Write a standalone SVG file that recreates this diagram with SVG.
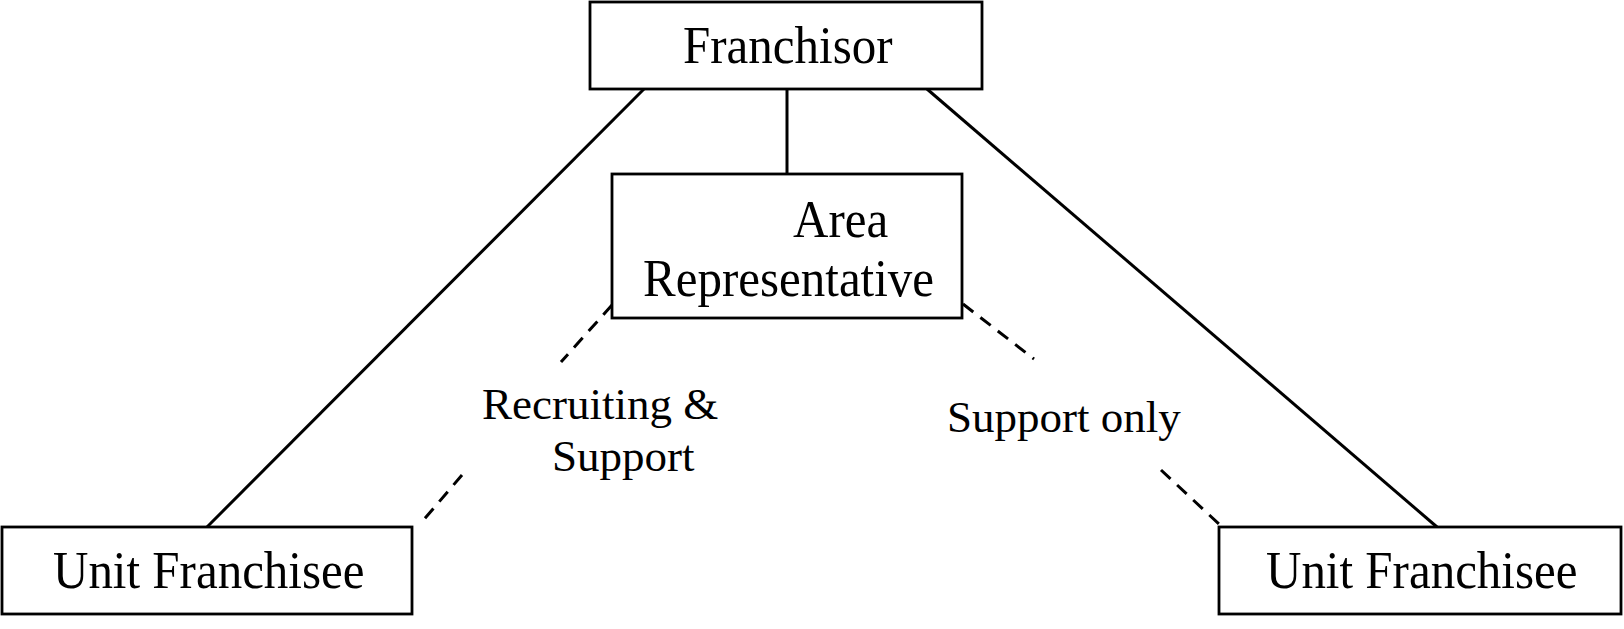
<svg xmlns="http://www.w3.org/2000/svg" width="1624" height="629" viewBox="0 0 1624 629">
<style>
.box{fill:#fff;stroke:#000;stroke-width:2.8}
.t{font-family:"Liberation Serif","Times New Roman",serif;font-size:49px;fill:#000}
.l{font-family:"Liberation Serif","Times New Roman",serif;font-size:45px;fill:#000}
.solid{stroke:#000;stroke-width:3;fill:none}
.dash{stroke:#000;stroke-width:3;fill:none;stroke-dasharray:13 9}
</style>
<rect width="1624" height="629" fill="#fff"/>
<g id="connectors">
<line class="solid" x1="787" y1="89" x2="787" y2="174"/>
<line class="solid" x1="644" y1="89" x2="207" y2="527"/>
<line class="solid" x1="927" y1="89" x2="1437" y2="527"/>
<line class="dash" x1="612" y1="305" x2="561" y2="362"/>
<line class="dash" x1="462" y1="475" x2="421" y2="523"/>
<line class="dash" x1="963" y1="304" x2="1034" y2="359"/>
<line class="dash" x1="1161" y1="470" x2="1219" y2="524"/>
</g>
<g id="franchisor">
<rect class="box" x="590" y="2" width="392" height="87"/>
<text class="t" transform="translate(683 63) scale(1 1.08)">Franchisor</text>
</g>
<g id="area-rep">
<rect class="box" x="612" y="174" width="350" height="144"/>
<text class="t" transform="translate(793 237) scale(1 1.08)">Area</text>
<text class="t" transform="translate(643 296) scale(1 1.08)">Representative</text>
</g>
<g id="unit-left">
<rect class="box" x="2" y="527" width="410" height="87"/>
<text class="t" transform="translate(53 588) scale(1 1.08)">Unit Franchisee</text>
</g>
<g id="unit-right">
<rect class="box" x="1219" y="527" width="402" height="87"/>
<text class="t" transform="translate(1266 588) scale(1 1.08)">Unit Franchisee</text>
</g>
<g id="labels">
<text class="l" x="482" y="419">Recruiting &amp;</text>
<text class="l" x="552" y="471">Support</text>
<text class="l" x="947" y="432">Support only</text>
</g>
</svg>
